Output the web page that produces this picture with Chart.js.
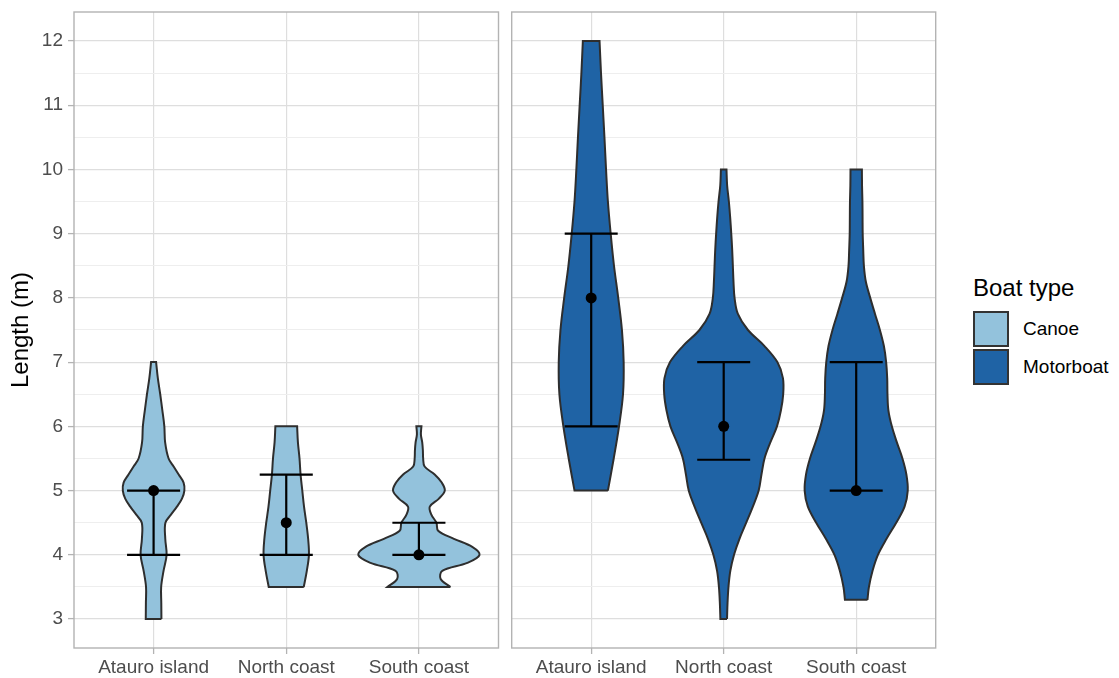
<!DOCTYPE html>
<html>
<head>
<meta charset="utf-8">
<script src="https://cdn.jsdelivr.net/npm/chart.js@4/dist/chart.umd.min.js"></script>
<style>
html,body{margin:0;padding:0;background:#fff;}
body{width:1119px;height:678px;position:relative;overflow:hidden;font-family:"Liberation Sans",Arial,sans-serif;}
#c1{position:absolute;left:0;top:0;}
#c2{position:absolute;left:500px;top:0;}
#legend{position:absolute;left:973px;top:0;width:146px;height:678px;}
.ltitle{position:absolute;left:0;top:274px;font-size:24px;line-height:28px;color:#000;white-space:nowrap;}
.lrow{position:absolute;left:0;height:36px;white-space:nowrap;}
.lkey{position:absolute;left:0;top:0;width:36px;height:36px;box-sizing:border-box;border:2px solid #333;}
.llab{position:absolute;left:50px;top:0;font-size:19px;line-height:36px;color:#000;}
</style>
</head>
<body>
<canvas id="c1" width="504" height="678"></canvas>
<canvas id="c2" width="450" height="678"></canvas>
<div id="legend"></div>
<script>
// ---------- data ----------
const categories = ['Atauro island', 'North coast', 'South coast'];
const boatTypes = ['Canoe', 'Motorboat'];
const yTickValues = [3, 4, 5, 6, 7, 8, 9, 10, 11, 12];
const yMinorValues = [3.5, 4.5, 5.5, 6.5, 7.5, 8.5, 9.5, 10.5, 11.5];

// violin profiles: lengths (m) and half-widths (in category units)
const canoeAtauroY = [3, 3.25, 3.5, 3.75, 4, 4.25, 4.5, 4.625, 4.75, 4.875, 5, 5.125, 5.25, 5.375, 5.5, 5.75, 6, 6.25, 6.5, 6.75, 7];
const canoeAtauroW = [0.059, 0.058, 0.057, 0.075, 0.098, 0.088, 0.089, 0.131, 0.176, 0.214, 0.232, 0.226, 0.189, 0.151, 0.113, 0.087, 0.081, 0.066, 0.05, 0.032, 0.019];
const canoeNorthY = [3.5, 3.75, 4, 4.25, 4.5, 4.75, 5, 5.25, 5.5, 5.75, 6];
const canoeNorthW = [0.132, 0.155, 0.171, 0.165, 0.151, 0.134, 0.121, 0.108, 0.1, 0.088, 0.082];
const canoeSouthY = [3.5, 3.625, 3.75, 3.875, 4, 4.125, 4.25, 4.375, 4.5, 4.625, 4.75, 4.875, 5, 5.125, 5.25, 5.375, 5.5, 5.625, 5.75, 5.875, 6];
const canoeSouthW = [0.238, 0.164, 0.176, 0.365, 0.457, 0.402, 0.264, 0.145, 0.132, 0.094, 0.082, 0.151, 0.195, 0.172, 0.119, 0.043, 0.032, 0.03, 0.025, 0.015, 0.019];

const motorAtauroY = [5, 5.5, 6, 6.5, 7, 7.5, 8, 8.5, 9, 9.5, 10, 10.5, 11, 11.5, 12];
const motorAtauroW = [0.126, 0.17, 0.21, 0.24, 0.245, 0.232, 0.204, 0.172, 0.147, 0.126, 0.112, 0.1, 0.087, 0.074, 0.063];
const motorNorthY = [3, 3.25, 3.5, 3.75, 4, 4.25, 4.5, 4.75, 5, 5.25, 5.5, 5.75, 6, 6.25, 6.5, 6.75, 7, 7.25, 7.5, 7.75, 8, 8.25, 8.5, 8.75, 9, 9.25, 9.5, 9.75, 10];
const motorNorthW = [0.025, 0.029, 0.036, 0.05, 0.078, 0.119, 0.17, 0.22, 0.264, 0.285, 0.308, 0.352, 0.402, 0.432, 0.449, 0.447, 0.405, 0.308, 0.183, 0.107, 0.082, 0.074, 0.069, 0.064, 0.057, 0.049, 0.039, 0.026, 0.021];
const motorSouthY = [3.3, 3.5, 3.75, 4, 4.25, 4.5, 4.75, 5, 5.25, 5.5, 5.75, 6, 6.25, 6.5, 6.75, 7, 7.25, 7.5, 7.75, 8, 8.25, 8.5, 8.75, 9, 9.25, 9.5, 9.75, 10];
const motorSouthW = [0.085, 0.096, 0.123, 0.164, 0.229, 0.302, 0.365, 0.389, 0.379, 0.349, 0.307, 0.269, 0.243, 0.236, 0.234, 0.226, 0.209, 0.179, 0.142, 0.106, 0.073, 0.058, 0.053, 0.049, 0.048, 0.047, 0.044, 0.043];

// summary markers (point, lower bar, upper bar) per region
const canoePoint = [5, 4.5, 4];
const canoeLower = [4, 4, 4];
const canoeUpper = [5, 5.25, 4.5];
const motorPoint = [8, 6, 5];
const motorLower = [6, 5.48, 5];
const motorUpper = [9, 7, 7];

const canoeColor = '#93c2dc';
const motorColor = '#1f63a5';

// ---------- helpers ----------
function violinPoints(pos, ys, ws) {
  const n = ys.length;
  const right = ys.map((y, i) => ({x: pos + ws[i], y: y}));
  const left = ys.map((y, i) => ({x: pos - ws[i], y: y})).reverse();
  return [right[0], ...right, right[n - 1], left[0], ...left, left[n - 1], right[0], right[0]];
}
function errorBarPoints(lower, upper, halfCap) {
  const pts = [];
  lower.forEach((lo, i) => {
    const c = i + 1, hi = upper[i];
    pts.push({x: c - halfCap, y: hi}, {x: c + halfCap, y: hi}, {x: c, y: null});
    pts.push({x: c, y: lo}, {x: c, y: hi}, {x: c, y: null});
    pts.push({x: c - halfCap, y: lo}, {x: c + halfCap, y: lo}, {x: c, y: null});
  });
  return pts;
}

const panelBorder = {
  id: 'panelBorder',
  afterDatasetsDraw(chart) {
    const a = chart.chartArea, ctx = chart.ctx;
    ctx.save();
    ctx.strokeStyle = '#b3b3b3';
    ctx.lineWidth = 1.4;
    ctx.strokeRect(a.left, a.top, a.right - a.left, a.bottom - a.top);
    ctx.restore();
  }
};

Chart.defaults.font.family = '"Liberation Sans", Arial, sans-serif';
const allYTicks = yTickValues.concat(yMinorValues).sort((a, b) => a - b);
const isMajor = v => yTickValues.includes(v);

function makePanel(id, profiles, color, point, lower, upper, isLeft) {
  const datasets = [];
  profiles.forEach((p, i) => {
    datasets.push({
      data: violinPoints(i + 1, p[0], p[1]),
      showLine: true, fill: 'shape', backgroundColor: color,
      borderColor: '#2e2e2e', borderWidth: 2, pointRadius: 0, tension: 0.35, order: 3
    });
  });
  datasets.push({
    data: errorBarPoints(lower, upper, 0.2), showLine: true, spanGaps: false,
    borderColor: '#000', borderWidth: 2.2, pointRadius: 0, tension: 0, fill: false, order: 2
  });
  datasets.push({
    data: point.map((v, i) => ({x: i + 1, y: v})), showLine: false,
    pointRadius: 5.5, pointBackgroundColor: '#000', pointBorderWidth: 0, order: 1
  });
  return new Chart(document.getElementById(id), {
    type: 'scatter',
    data: {datasets: datasets},
    plugins: [panelBorder],
    options: {
      responsive: false, animation: false,
      layout: {padding: isLeft ? {left: 0, right: 2, top: 12, bottom: 0} : {left: 11.7, right: 14.3, top: 12, bottom: 0}},
      plugins: {legend: {display: false}, tooltip: {enabled: false}},
      scales: {
        x: {
          type: 'linear', min: 0.4, max: 3.6,
          afterBuildTicks: s => { s.ticks = [1, 2, 3].map(v => ({value: v})); },
          afterFit: s => { s.height = 30; s.paddingLeft = 0; s.paddingRight = 0; },
          ticks: {autoSkip: false, maxRotation: 0, color: '#4d4d4d', font: {size: 19}, padding: 2,
                  callback: v => categories[v - 1]},
          grid: {color: '#dedede', lineWidth: 1.2, tickLength: 6, tickColor: '#b3b3b3', tickWidth: 1.3},
          border: {display: false}
        },
        y: {
          type: 'linear', min: 2.55, max: 12.45,
          afterBuildTicks: s => { s.ticks = allYTicks.map(v => ({value: v})); },
          afterFit: s => { s.width = isLeft ? 74 : 0; s.paddingTop = 0; s.paddingBottom = 0; },
          ticks: {display: isLeft, autoSkip: false, color: '#4d4d4d', font: {size: 19}, padding: 5,
                  callback: v => isMajor(v) ? String(v) : ''},
          grid: {
            color: c => (c.tick && isMajor(c.tick.value)) ? '#dedede' : '#eeeeee',
            lineWidth: c => (c.tick && isMajor(c.tick.value)) ? 1.2 : 1,
            drawTicks: isLeft, tickLength: 6, tickWidth: 1.3,
            tickColor: c => (c.tick && isMajor(c.tick.value)) ? '#b3b3b3' : 'rgba(0,0,0,0)'
          },
          border: {display: false},
          title: {display: isLeft, text: 'Length (m)', color: '#000', font: {size: 24}, padding: {top: 7, bottom: 0}}
        }
      }
    }
  });
}

makePanel('c1', [[canoeAtauroY, canoeAtauroW], [canoeNorthY, canoeNorthW], [canoeSouthY, canoeSouthW]],
          canoeColor, canoePoint, canoeLower, canoeUpper, true);
makePanel('c2', [[motorAtauroY, motorAtauroW], [motorNorthY, motorNorthW], [motorSouthY, motorSouthW]],
          motorColor, motorPoint, motorLower, motorUpper, false);

// legend
const legend = document.getElementById('legend');
const t = document.createElement('div');
t.className = 'ltitle'; t.textContent = 'Boat type';
legend.appendChild(t);
[canoeColor, motorColor].forEach((col, i) => {
  const row = document.createElement('div');
  row.className = 'lrow';
  row.style.top = (311 + i * 38) + 'px';
  const key = document.createElement('div');
  key.className = 'lkey'; key.style.background = col;
  const lab = document.createElement('div');
  lab.className = 'llab'; lab.textContent = boatTypes[i];
  row.appendChild(key); row.appendChild(lab);
  legend.appendChild(row);
});
</script>
</body>
</html>
